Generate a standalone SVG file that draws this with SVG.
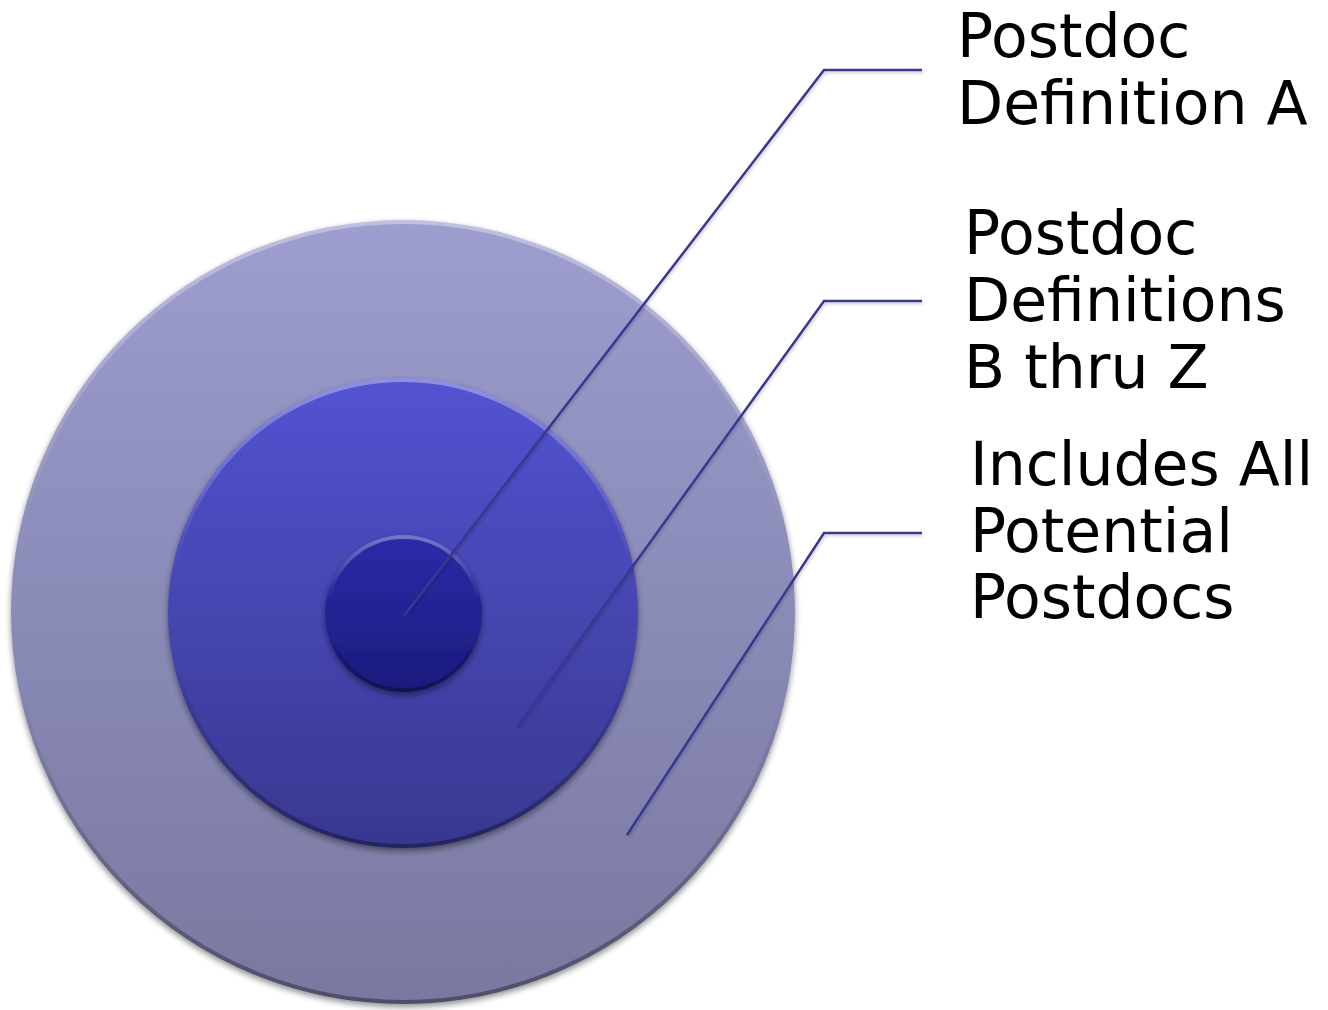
<svg xmlns="http://www.w3.org/2000/svg" width="1328" height="1010" viewBox="0 0 1328 1010">
  <defs>
    <linearGradient id="gOuter" x1="0" y1="0" x2="0" y2="1">
      <stop offset="0" stop-color="#9d9dcf"/>
      <stop offset="1" stop-color="#7878a0"/>
    </linearGradient>
    <linearGradient id="gMid" x1="0" y1="0" x2="0" y2="1">
      <stop offset="0" stop-color="#5353d2"/>
      <stop offset="1" stop-color="#383890"/>
    </linearGradient>
    <linearGradient id="gIn" x1="0" y1="0" x2="0" y2="1">
      <stop offset="0" stop-color="#2b2ba8"/>
      <stop offset="1" stop-color="#1b1b7e"/>
    </linearGradient>
    <linearGradient id="gRim" x1="0" y1="0" x2="0" y2="1">
      <stop offset="0" stop-color="#ffffff" stop-opacity="0.35"/>
      <stop offset="0.4" stop-color="#ffffff" stop-opacity="0"/>
      <stop offset="0.6" stop-color="#000000" stop-opacity="0"/>
      <stop offset="1" stop-color="#000000" stop-opacity="0.35"/>
    </linearGradient>
    <filter id="shadow" x="-10%" y="-10%" width="120%" height="120%">
      <feGaussianBlur in="SourceAlpha" stdDeviation="3"/>
      <feOffset dx="0" dy="3" result="b"/>
      <feComponentTransfer><feFuncA type="linear" slope="0.45"/></feComponentTransfer>
      <feMerge><feMergeNode/><feMergeNode in="SourceGraphic"/></feMerge>
    </filter>
    <filter id="lshadow" x="-5%" y="-5%" width="110%" height="110%">
      <feGaussianBlur in="SourceAlpha" stdDeviation="1.5"/>
      <feOffset dx="1" dy="2"/>
      <feComponentTransfer><feFuncA type="linear" slope="0.2"/></feComponentTransfer>
      <feMerge><feMergeNode/><feMergeNode in="SourceGraphic"/></feMerge>
    </filter>
  </defs>
  <style>
    .rim { fill: none; stroke: url(#gRim); stroke-width: 4; }
    .conn { fill: none; stroke: #383892; stroke-width: 2.5; stroke-linejoin: miter; }
    .lbl { font-family: "DejaVu Sans", Verdana, sans-serif; font-size: 60px; fill: #000000; }
  </style>
  <rect width="1328" height="1010" fill="#ffffff"/>

  <g id="outer">
    <circle cx="403" cy="612" r="392" fill="url(#gOuter)" filter="url(#shadow)"/>
    <circle cx="403" cy="612" r="390" class="rim"/>
  </g>
  <g id="middle">
    <circle cx="403" cy="613" r="235" fill="url(#gMid)" filter="url(#shadow)"/>
    <circle cx="403" cy="613" r="233" class="rim"/>
  </g>
  <g id="inner">
    <circle cx="403.5" cy="613.5" r="78.5" fill="url(#gIn)" filter="url(#shadow)"/>
    <circle cx="403.5" cy="613.5" r="76.5" class="rim" stroke-width="3"/>
  </g>

  <g id="connectors" filter="url(#lshadow)">
    <polyline class="conn" points="404,616 824,70 922,70"/>
    <polyline class="conn" points="517,727 824,301 922,301"/>
    <polyline class="conn" points="627,835 824,533 922,533"/>
  </g>

  <g id="label-a">
    <text class="lbl" x="957" y="57">Postdoc</text>
    <text class="lbl" x="957" y="124">Definition A</text>
  </g>
  <g id="label-b">
    <text class="lbl" x="964" y="254">Postdoc</text>
    <text class="lbl" x="964" y="321">Definitions</text>
    <text class="lbl" x="964" y="388">B thru Z</text>
  </g>
  <g id="label-c">
    <text class="lbl" x="970" y="485">Includes All</text>
    <text class="lbl" x="970" y="552">Potential</text>
    <text class="lbl" x="970" y="618">Postdocs</text>
  </g>
</svg>
